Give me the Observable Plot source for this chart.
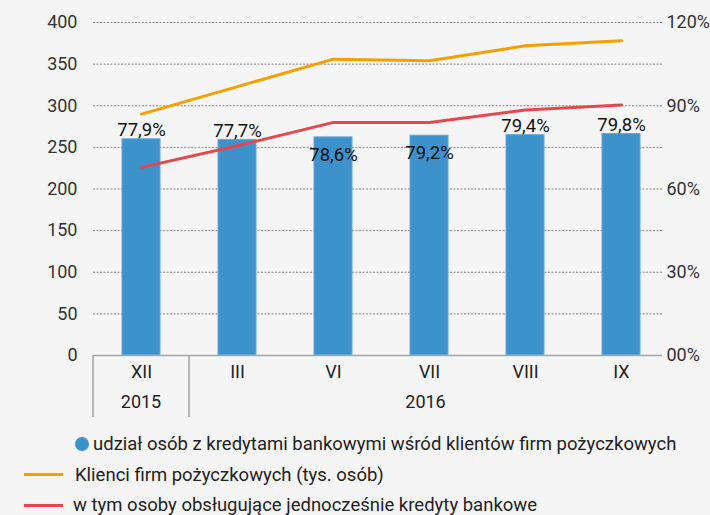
<!DOCTYPE html>
<html>
<head>
<meta charset="utf-8">
<script src="https://cdn.jsdelivr.net/npm/d3@7"></script>
<script src="https://cdn.jsdelivr.net/npm/@observablehq/plot@0.6"></script>
<style>
  html, body { margin: 0; padding: 0; background: #f5f5f5; }
  body { width: 710px; height: 515px; overflow: hidden; font-family: Roboto, "Noto Sans", sans-serif; }
  #chart svg { display: block; background: #f5f5f5; }
  .legend { font-family: Roboto, sans-serif; font-size: 18.5px; color: #222; margin-top: 4px; }
  .legend .row { display: flex; align-items: center; height: 30.5px; white-space: nowrap; }
  .legend .dot { width: 14px; height: 14px; border-radius: 50%; background: #3e92cc; margin-right: 4px; }
  .legend .ln { width: 39px; height: 3px; margin-right: 12px; }
</style>
</head>
<body>
<div id="chart"></div>
<div class="legend" id="legend"></div>
<script>
const categories = ["XII", "III", "VI", "VII", "VIII", "IX"];
const yearLabels = ["2015", "2016"];
const yearFirst = ["XII", "III"];
const yearLast = ["XII", "IX"];
// share of clients with bank loans (%), plotted on right axis
const share = [77.9, 77.7, 78.6, 79.2, 79.4, 79.8];
// Klienci firm pożyczkowych (tys. osób)
const clients = [290, 323, 356, 354, 372, 378];
// w tym osoby obsługujące jednocześnie kredyty bankowe
const withBank = [226, 252, 280, 280, 295, 301];
const insideLabelCats = ["VI", "VII"];
const leftTicks = [0, 50, 100, 150, 200, 250, 300, 350, 400];
const rightTicks = [0, 30, 60, 90, 120];
const leftMax = 400, rightMax = 120;

const legendItems = [
  {kind: "dot", color: "#3e92cc", label: "udział osób z kredytami bankowymi wśród klientów firm pożyczkowych"},
  {kind: "line", color: "#f5a000", label: "Klienci firm pożyczkowych (tys. osób)"},
  {kind: "line", color: "#e5474e", label: "w tym osoby obsługujące jednocześnie kredyty bankowe"}
];

const rows = categories.map((c, i) => ({cat: c, share: share[i], clients: clients[i], withBank: withBank[i]}));
const toLeft = p => p * leftMax / rightMax;
const fmtShare = v => d3.format(".1f")(v).replace(".", ",") + "%";
const groups = yearLabels.map((y, i) => ({year: y, first: yearFirst[i], last: yearLast[i]}));

function yearTable(index, scales, values, dims) {
  const x = scales.x;
  const bw = x.bandwidth();
  const step = x.step ? x.step() : bw / 0.4;
  const pad = (step - bw) / 2;
  const top = dims.height - dims.marginBottom;
  const bottom = dims.height - 8;
  const frameL = dims.marginLeft, frameR = dims.width - dims.marginRight;
  const g = d3.create("svg:g");
  for (const grp of groups) {
    const l = Math.max(frameL, x(grp.first) - pad);
    const r = Math.min(frameR, x(grp.last) + bw + pad);
    g.append("line").attr("x1", l).attr("x2", l).attr("y1", top).attr("y2", bottom)
      .attr("stroke", "#a0a0a0").attr("stroke-width", 1.5);
    g.append("text").attr("x", (l + r) / 2).attr("y", top + 48)
      .attr("text-anchor", "middle").attr("dominant-baseline", "middle")
      .attr("font-size", 18).attr("fill", "#222").text(grp.year);
  }
  return g.node();
}

const plot = Plot.plot({
  width: 710,
  height: 425,
  marginLeft: 93,
  marginRight: 48,
  marginTop: 22,
  marginBottom: 70,
  style: {background: "#f5f5f5", fontFamily: "Roboto, sans-serif", fontSize: "18px", color: "#333", overflow: "visible"},
  x: {domain: categories, range: [91, 672], paddingInner: 0.6, paddingOuter: 0.3},
  y: {domain: [0, leftMax]},
  marks: [
    Plot.gridY(leftTicks.filter(t => t > 0), {stroke: "#888", strokeOpacity: 1, strokeDasharray: "2,1.5", strokeWidth: 1}),
    Plot.barY(rows, {x: "cat", y: d => toLeft(d.share), fill: "#3e92cc", stroke: "#62a8da", strokeWidth: 1}),
    Plot.ruleY([0], {stroke: "#a8a8a8", strokeWidth: 1.5}),
    Plot.line(rows, {x: "cat", y: "clients", stroke: "#f5a000", strokeWidth: 3}),
    Plot.line(rows, {x: "cat", y: "withBank", stroke: "#e5474e", strokeWidth: 3}),
    Plot.text(rows.filter(d => !insideLabelCats.includes(d.cat)), {
      x: "cat", y: d => toLeft(d.share), text: d => fmtShare(d.share),
      lineAnchor: "bottom", dy: -3, fontSize: 18.5, fill: "#111"
    }),
    Plot.text(rows.filter(d => insideLabelCats.includes(d.cat)), {
      x: "cat", y: d => toLeft(d.share), text: d => fmtShare(d.share),
      lineAnchor: "top", dy: 10, fontSize: 18.5, fill: "#111"
    }),
    Plot.axisY(leftTicks, {anchor: "left", tickSize: 0, tickPadding: 16, label: null, fontSize: 18, fill: "#333"}),
    Plot.axisY(rightTicks.map(toLeft), {anchor: "right", tickSize: 0, tickPadding: 4, label: null, fontSize: 18, fill: "#333",
      tickFormat: v => d3.format("02d")(Math.round(v * rightMax / leftMax)) + "%"}),
    Plot.axisX({tickSize: 0, tickPadding: 10, label: null, fontSize: 18, fill: "#222"}),
    yearTable
  ]
});
document.getElementById("chart").appendChild(plot);

const legend = document.getElementById("legend");
legendItems.forEach((it, i) => {
  const row = document.createElement("div");
  row.className = "row";
  if (it.kind === "dot") {
    row.style.paddingLeft = "75px";
    const dot = document.createElement("span");
    dot.className = "dot"; dot.style.background = it.color;
    row.appendChild(dot);
  } else {
    row.style.paddingLeft = "24px";
    const ln = document.createElement("span");
    ln.className = "ln"; ln.style.background = it.color;
    if (i === 2) ln.style.marginRight = "10px";
    row.appendChild(ln);
  }
  const t = document.createElement("span");
  t.textContent = it.label;
  row.appendChild(t);
  legend.appendChild(row);
});
</script>
</body>
</html>
